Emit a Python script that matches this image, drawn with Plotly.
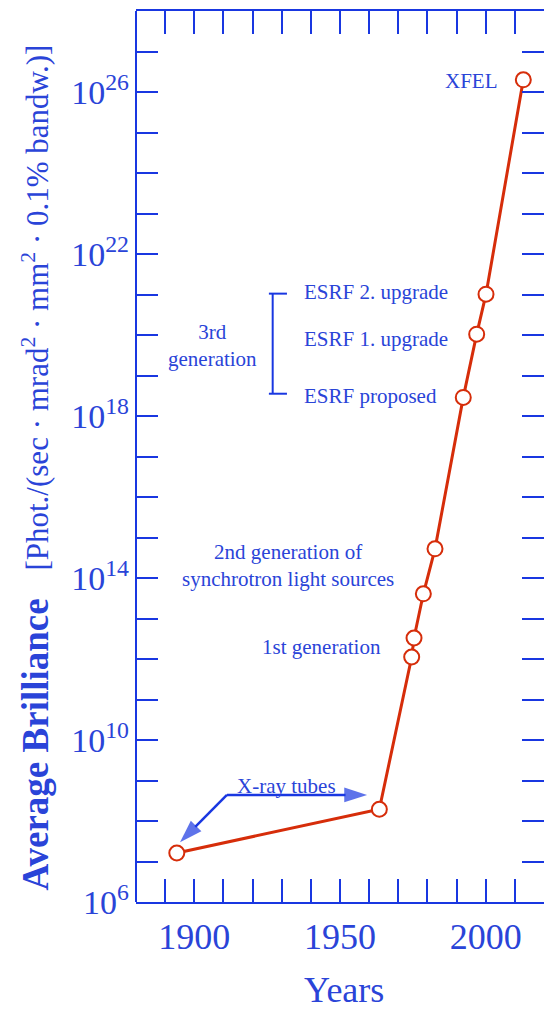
import plotly.graph_objects as go

# ---- data ----
years = [1894, 1963.5, 1974.6, 1975.4, 1978.6, 1982.6, 1992.3, 1996.9, 2000.1, 2012.9]
brilliance = [1.62e7, 1.95e8, 1.12e12, 3.3e12, 4.07e13, 5.25e14, 2.88e18, 1.05e20, 1.02e21, 2.0e26]

x_tick_vals = [1890, 1900, 1910, 1920, 1930, 1940, 1950, 1960, 1970, 1980, 1990, 2000, 2010]
x_tick_text = ["", "1900", "", "", "", "", "1950", "", "", "", "", "2000", ""]
y_tick_exps = list(range(6, 29))
y_label_exps = [6, 10, 14, 18, 22, 26]

# annotation labels: (text, year, log10 value, xanchor)
labels = [
    ("XFEL", 2005.0, 26.27, "right"),
    ("ESRF 2. upgrade", 1936.9, 21.05, "left"),
    ("ESRF 1. upgrade", 1936.9, 19.91, "left"),
    ("ESRF proposed", 1936.9, 18.50, "left"),
    ("3rd<br>generation", 1906.4, 19.74, "center"),
    ("2nd generation of<br>synchrotron light sources", 1932.2, 14.32, "center"),
    ("1st generation", 1943.7, 12.29, "center"),
    ("X-ray tubes", 1931.5, 8.86, "center"),
]

# bracket for 3rd generation
bracket_x = [1925.6, 1931.8, None, 1926.9, 1926.9, None, 1925.6, 1931.8]
bracket_y = [1.05e21, 1.05e21, None, 1.05e21, 3.55e18, None, 3.55e18, 3.55e18]

# arrows for X-ray tubes (tail, head)
arrow_h_x = [1911.2, 1959.3]
arrow_h_y = [4.4e8, 4.4e8]
arrow_d_x = [1911.2, 1895.1]
arrow_d_y = [4.4e8, 3.0e7]

BLUE = "#1937e1"
TEXT_BLUE = "#2a44d8"
RED = "#d62d0a"
FONT = "Liberation Serif"

fig = go.Figure()

fig.add_trace(go.Scatter(
    x=years, y=brilliance, mode="lines+markers",
    line=dict(color=RED, width=3),
    marker=dict(symbol="circle", size=15, color="white", line=dict(color=RED, width=2)),
    showlegend=False, hoverinfo="skip"))

fig.add_trace(go.Scatter(
    x=bracket_x, y=bracket_y, mode="lines",
    line=dict(color=BLUE, width=2), showlegend=False, hoverinfo="skip"))

for ax_, ay_ in [(arrow_h_x, arrow_h_y), (arrow_d_x, arrow_d_y)]:
    fig.add_trace(go.Scatter(
        x=ax_, y=ay_, mode="lines+markers",
        line=dict(color=BLUE, width=2.5),
        marker=dict(symbol="arrow", size=[0, 24], color=BLUE, angleref="previous",
                    line=dict(width=0)),
        showlegend=False, hoverinfo="skip"))

annotations = []
for text, xv, yv, anchor in labels:
    annotations.append(dict(
        text=text, x=xv, y=yv, xref="x", yref="y", xanchor=anchor, yanchor="middle",
        showarrow=False, font=dict(family=FONT, size=21, color=TEXT_BLUE)))

annotations.append(dict(
    text="Years", x=1951.4, y=-0.099, xref="x", yref="paper",
    xanchor="center", yanchor="middle", showarrow=False,
    font=dict(family=FONT, size=36, color=TEXT_BLUE)))

annotations.append(dict(
    text=("<b>Average Brilliance</b>\u00a0\u00a0\u00a0"
          "<span style='font-size:31px'>[Phot./(sec · mrad<sup>2</sup> · mm<sup>2</sup>"
          " · 0.1% bandw.)]</span>"),
    x=-0.2475, y=16.73, xref="paper", yref="y", xanchor="center", yanchor="middle",
    textangle=-90, showarrow=False,
    font=dict(family=FONT, size=37, color=TEXT_BLUE)))

fig.update_layout(
    width=544, height=1011,
    margin=dict(l=136, r=0, t=11, b=109),
    paper_bgcolor="white", plot_bgcolor="white",
    annotations=annotations,
    shapes=[dict(type="line", xref="paper", yref="paper", x0=0, x1=0, y0=0, y1=1,
                 line=dict(color=BLUE, width=2), layer="above")],
    xaxis=dict(
        range=[1880, 2020], tickmode="array", tickvals=x_tick_vals, ticktext=x_tick_text,
        ticks="inside", ticklen=23, tickwidth=2, tickcolor=BLUE,
        showline=True, linecolor=BLUE, linewidth=2, mirror="ticks",
        showgrid=False, zeroline=False, ticklabelstandoff=2,
        tickfont=dict(family=FONT, size=36, color=TEXT_BLUE)),
    yaxis=dict(
        type="log", range=[6, 28], tickmode="array",
        tickvals=[float(10.0 ** e) for e in y_tick_exps],
        ticktext=[("10<sup>%d</sup>" % e) if e in y_label_exps else "" for e in y_tick_exps],
        ticks="inside", ticklen=22, tickwidth=2, tickcolor=BLUE,
        showline=False, mirror="ticks",
        showgrid=False, zeroline=False, ticklabelstandoff=6,
        tickfont=dict(family=FONT, size=34, color=TEXT_BLUE)),
)

fig.write_html("out.html")
